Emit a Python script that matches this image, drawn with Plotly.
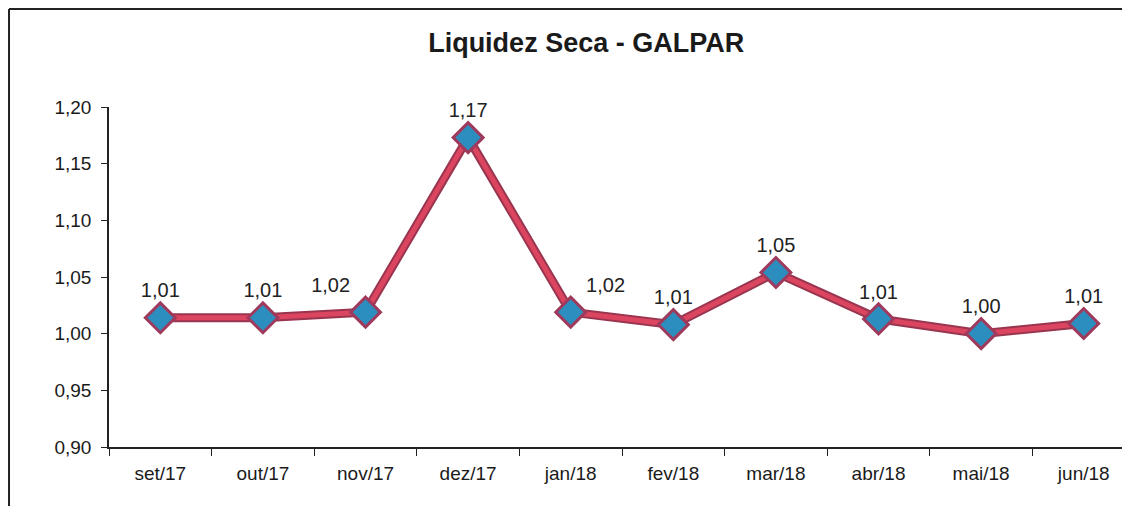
import plotly.graph_objects as go

categories = ["set/17", "out/17", "nov/17", "dez/17", "jan/18", "fev/18", "mar/18", "abr/18", "mai/18", "jun/18"]
values = [1.014, 1.014, 1.019, 1.173, 1.019, 1.008, 1.054, 1.013, 1.000, 1.009]
label_pos = ["top center", "top center", "top left", "top center", "top right",
             "top center", "top center", "top center", "top center", "top center"]
title_text = "Liquidez Seca - GALPAR"

FONT = "Arial, Liberation Sans, sans-serif"

fig = go.Figure()
# darker outline of the line
fig.add_trace(go.Scatter(
    x=categories, y=values, mode="lines",
    line=dict(color="#9A3550", width=9),
    hoverinfo="skip", showlegend=False, cliponaxis=False,
))
fig.add_trace(go.Scatter(
    x=categories, y=values, mode="lines+markers+text",
    line=dict(color="#DC4560", width=5),
    marker=dict(symbol="diamond", size=23, color="#2C8EBE",
                line=dict(color="#A03A5C", width=3)),
    text=[f"{v:.2f}".replace(".", ",") for v in values],
    textposition=label_pos,
    textfont=dict(family=FONT, size=20, color="#222222"),
    showlegend=False, cliponaxis=False,
))

border = dict(color="#222222", width=2)
fig.update_layout(
    width=1114, height=498,
    margin=dict(l=101, r=0, t=99, b=59),
    paper_bgcolor="white", plot_bgcolor="white",
    separators=",.",
    title=dict(text=f"<b>{title_text}</b>", x=0.519, xanchor="center",
               y=0.9297, yanchor="middle",
               font=dict(family=FONT, size=27, color="#1a1a1a")),
    font=dict(family=FONT, size=19, color="#1a1a1a"),
    xaxis=dict(
        range=[-0.5, 9.373], showgrid=False, zeroline=False,
        showline=True, linecolor="#222222", linewidth=2,
        ticks="outside", tickson="boundaries", ticklen=7, tickcolor="#222222",
        ticklabelstandoff=8,
        tickfont=dict(family=FONT, size=19, color="#1a1a1a"),
    ),
    yaxis=dict(
        range=[0.90, 1.20], dtick=0.05, tickformat=".2f",
        showgrid=False, zeroline=False,
        showline=True, linecolor="#222222", linewidth=1.5,
        ticks="outside", ticklen=6, tickcolor="#222222",
        ticklabelstandoff=6,
        tickfont=dict(family=FONT, size=19, color="#1a1a1a"),
    ),
    shapes=[
        dict(type="line", xref="paper", yref="paper",
             x0=-0.0987, x1=-0.0987, y0=-0.3, y1=1.288, line=border, layer="below"),
        dict(type="line", xref="paper", yref="paper",
             x0=-0.0987, x1=1.0, y0=1.288, y1=1.288, line=border, layer="below"),
    ],
)

fig.write_html("out.html")
